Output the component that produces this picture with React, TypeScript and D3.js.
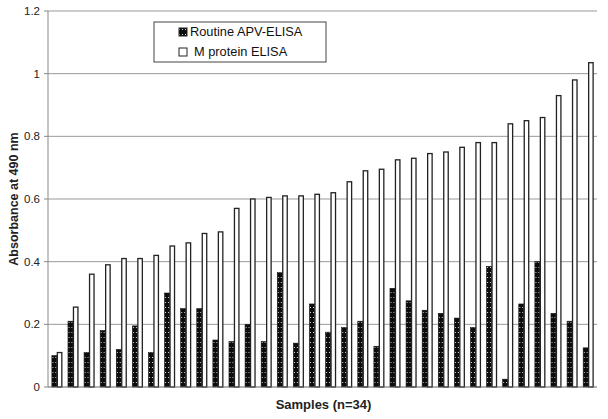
import React, { useMemo } from "react";
import * as d3 from "d3";

const samples = d3.range(1, 35).map((i) => `S${i}`);

const routineApv = [
    0.10, 0.21, 0.11, 0.18, 0.12, 0.195, 0.11, 0.30, 0.25, 0.25,
    0.15, 0.145, 0.20, 0.145, 0.365, 0.14, 0.265, 0.175, 0.19, 0.21,
    0.13, 0.315, 0.275, 0.245, 0.235, 0.22, 0.19, 0.385, 0.025, 0.265,
    0.40, 0.235, 0.21, 0.125,
];

const mProtein = [
    0.11, 0.255, 0.36, 0.39, 0.41, 0.41, 0.42, 0.45, 0.46, 0.49,
    0.495, 0.57, 0.60, 0.605, 0.61, 0.61, 0.615, 0.62, 0.655, 0.69,
    0.695, 0.725, 0.73, 0.745, 0.75, 0.765, 0.78, 0.78, 0.84, 0.85,
    0.86, 0.93, 0.98, 1.035,
];

const yTicks = [0, 0.2, 0.4, 0.6, 0.8, 1, 1.2];
const seriesKeys = ["apv", "m"];
const legendLabels = ["Routine APV-ELISA", "M protein ELISA"];

const width = 608;
const height = 419;
const margin = { top: 11, right: 11, bottom: 32, left: 48 };
const font = "Arial, 'Liberation Sans', sans-serif";

export default function App() {
    const x = useMemo(
        () =>
            d3
                .scaleBand()
                .domain(samples)
                .range([margin.left, width - margin.right])
                .paddingInner(0.32)
                .paddingOuter(0.21),
        []
    );
    const xi = useMemo(
        () => d3.scaleBand().domain(seriesKeys).range([0, x.bandwidth()]),
        [x]
    );
    const y = useMemo(
        () =>
            d3
                .scaleLinear()
                .domain([0, 1.2])
                .range([height - margin.bottom, margin.top]),
        []
    );

    const fmt = (v: number) => (v === 0 || v === 1 ? String(v) : d3.format(".1f")(v));

    return (
        <svg
            width={width}
            height={height}
            style={{ position: "absolute", top: 0, left: 0, background: "white" }}
        >
            <defs>
                <pattern id="dots" width={3} height={5} patternUnits="userSpaceOnUse">
                    <rect width={3} height={5} fill="#0d0d0d" />
                    <rect x={1} y={2} width={1} height={1} fill="#d8d8d8" />
                </pattern>
            </defs>

            {/* gridlines */}
            {yTicks.slice(1).map((t) => (
                <line
                    key={t}
                    x1={margin.left}
                    x2={width - margin.right}
                    y1={y(t)}
                    y2={y(t)}
                    stroke="#999"
                    strokeWidth={1}
                />
            ))}

            {/* bars */}
            {samples.map((s, i) => (
                <g key={s} transform={`translate(${x(s)},0)`}>
                    <rect
                        x={xi("apv")! + 0.5}
                        y={y(routineApv[i])}
                        width={xi.bandwidth() - 0.5}
                        height={y(0) - y(routineApv[i])}
                        fill="url(#dots)"
                        stroke="#111"
                        strokeWidth={0.6}
                    />
                    <rect
                        x={xi("m")! + 0.5}
                        y={y(mProtein[i])}
                        width={xi.bandwidth() - 1}
                        height={y(0) - y(mProtein[i])}
                        fill="white"
                        stroke="#222"
                        strokeWidth={1.3}
                    />
                </g>
            ))}

            {/* axes */}
            <line
                x1={margin.left}
                x2={margin.left}
                y1={margin.top}
                y2={y(0)}
                stroke="#888"
            />
            <line
                x1={margin.left}
                x2={width - margin.right}
                y1={y(0)}
                y2={y(0)}
                stroke="#666"
                strokeWidth={1.2}
            />
            {yTicks.map((t) => (
                <g key={t} transform={`translate(${margin.left},${y(t)})`}>
                    <line x1={-4} x2={0} stroke="#888" />
                    <text
                        x={-8}
                        dy="0.35em"
                        textAnchor="end"
                        fontFamily={font}
                        fontSize={11.5}
                        fill="#222"
                    >
                        {fmt(t)}
                    </text>
                </g>
            ))}

            {/* axis titles */}
            <text
                x={(margin.left + width - margin.right) / 2 + 1}
                y={409}
                textAnchor="middle"
                fontFamily={font}
                fontSize={13}
                fontWeight="bold"
                fill="#222"
            >
                Samples (n=34)
            </text>
            <text
                transform={`translate(18,${(margin.top + y(0)) / 2}) rotate(-90)`}
                textAnchor="middle"
                fontFamily={font}
                fontSize={12.5}
                fontWeight="bold"
                fill="#222"
            >
                Absorbance at 490 nm
            </text>

            {/* legend */}
            <g transform="translate(154,22)">
                <rect width={172} height={40} fill="white" stroke="#444" strokeWidth={1} />
                {legendLabels.map((l, i) => (
                    <g key={l} transform={`translate(0,${10 + i * 20})`}>
                        <rect
                            x={25}
                            y={-4}
                            width={8}
                            height={8}
                            fill={i === 0 ? "url(#dots)" : "white"}
                            stroke="#222"
                            strokeWidth={1}
                        />
                        <text
                            x={i === 0 ? 36 : 40}
                            dy="0.35em"
                            fontFamily={font}
                            fontSize={12.8}
                            fill="#111"
                        >
                            {l}
                        </text>
                    </g>
                ))}
            </g>
        </svg>
    );
}
